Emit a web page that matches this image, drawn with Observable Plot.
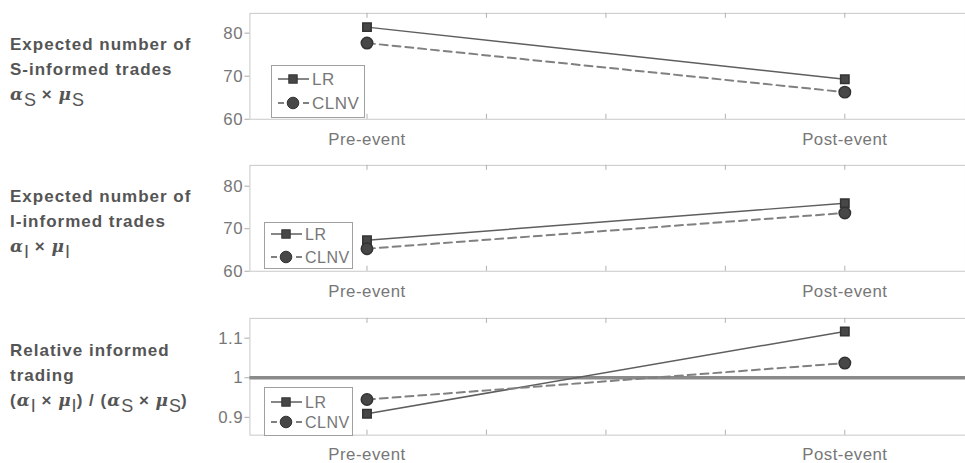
<!DOCTYPE html>
<html>
<head>
<meta charset="utf-8">
<script src="https://cdn.jsdelivr.net/npm/d3@7"></script>
<script src="https://cdn.jsdelivr.net/npm/@observablehq/plot@0.6"></script>
<style>
  body { margin: 0; background: #fff; overflow: hidden; }
  #chart { position: relative; width: 965px; height: 463px; overflow: hidden;
           font-family: "Liberation Sans", Arial, sans-serif; }
  .panel { position: absolute; left: 0; }
  .lbl { position: absolute; left: 10px; color: #555; font-weight: bold;
         font-size: 17px; letter-spacing: 1px; line-height: 25px; white-space: nowrap; }
  .lbl i { font-family: "DejaVu Serif", serif; font-style: italic; font-weight: bold; }
  .lbl sub { font-weight: normal; font-size: 18px; vertical-align: -6px; line-height: 0; letter-spacing: 0; }
  .legend { position: absolute; }
</style>
</head>
<body>
<div id="chart"></div>
<script>
// Event periods and their slots on the horizontal axis
const periods = ["Pre-event", "Post-event"];
const periodSlot = [1, 5];
const slotTicks = [1, 2, 3, 4, 5];

// Expected number of S-informed trades
const lrS = [81.4, 69.3];
const clnvS = [77.7, 66.3];
// Expected number of I-informed trades
const lrI = [67.3, 76.0];
const clnvI = [65.3, 73.7];
// Relative informed trading (I / S)
const lrRel = [0.909, 1.117];
const clnvRel = [0.945, 1.037];

const ticksS = [60, 70, 80];
const ticksI = [60, 70, 80];
const ticksRel = [0.9, 1, 1.1];
const tickLabelsRel = ["0.9", "1", "1.1"];
const seriesNames = ["LR", "CLNV"];

const panels = [
  { top: 0, height: 150, marginTop: 13, marginBottom: 30, domain: [60, 84.6],
    ticks: ticksS, fmt: d => String(d), lr: lrS, clnv: clnvS, padX: 14,
    legend: { left: 271, top: 65, w: 93, h: 52, rows: [14, 38], fs: 17 },
    label: { top: 32, html: 'Expected number of<br>S-informed trades<br><i>α</i><sub>S</sub> × <i>μ</i><sub>S</sub>' } },
  { top: 152, height: 150, marginTop: 13, marginBottom: 30, domain: [60, 84.9],
    ticks: ticksI, fmt: d => String(d), lr: lrI, clnv: clnvI, padX: 14,
    legend: { left: 264, top: 222, w: 88, h: 46, rows: [12, 35], fs: 16 },
    label: { top: 184, html: 'Expected number of<br>I-informed trades<br><i>α</i><sub>I</sub> × <i>μ</i><sub>I</sub>' } },
  { top: 305, height: 158, marginTop: 13, marginBottom: 27, domain: [0.855, 1.15],
    ticks: ticksRel, fmt: d => tickLabelsRel[ticksRel.indexOf(d)], lr: lrRel, clnv: clnvRel, padX: 13,
    refLine: 1,
    legend: { left: 264, top: 387, w: 88, h: 48, rows: [15, 35], fs: 16 },
    label: { top: 338, html: 'Relative informed<br>trading<br>(<i>α</i><sub>I</sub> × <i>μ</i><sub>I</sub>) / (<i>α</i><sub>S</sub> × <i>μ</i><sub>S</sub>)' } }
];

const chart = document.getElementById("chart");
const W = 975, ML = 252;

for (const p of panels) {
  const rows = periods.flatMap((period, i) => [
    { series: "LR", x: periodSlot[i], y: p.lr[i] },
    { series: "CLNV", x: periodSlot[i], y: p.clnv[i] }
  ]);
  const lr = rows.filter(d => d.series === "LR");
  const cl = rows.filter(d => d.series === "CLNV");
  const plotH = p.height - p.marginTop - p.marginBottom;

  const marks = [
    Plot.frame({ stroke: "#c8c8c8" }),
    // inward ticks along the top and bottom edges
    Plot.tickX(slotTicks, { x: d => d, insetTop: plotH - 5, stroke: "#b0b0b0" }),
    Plot.tickX(slotTicks, { x: d => d, insetBottom: plotH - 5, stroke: "#b0b0b0" }),
    Plot.axisX({ ticks: periodSlot, tickSize: 0, tickPadding: p.padX, label: null,
                 tickFormat: d => periods[periodSlot.indexOf(d)], fill: "#777", fontSize: 17 }),
    Plot.axisY({ ticks: p.ticks, tickSize: 5, tickPadding: 2, tickFormat: p.fmt, label: null,
                 stroke: "#aaa", fill: "#777", fontSize: 17 })
  ];
  if (p.refLine !== undefined) marks.push(Plot.ruleY([p.refLine], { stroke: "#8a8a8a", strokeWidth: 3.5 }));
  marks.push(
    Plot.line(lr, { x: "x", y: "y", stroke: "#5e5e5e", strokeWidth: 1.5 }),
    Plot.line(cl, { x: "x", y: "y", stroke: "#808080", strokeWidth: 2, strokeDasharray: "8,5" }),
    Plot.dot(lr, { x: "x", y: "y", symbol: "square", r: 4.8, fill: "#474747", stroke: "#333" }),
    Plot.dot(cl, { x: "x", y: "y", symbol: "circle", r: 5.8, fill: "#474747", stroke: "#333" })
  );

  const svg = Plot.plot({
    width: W, height: p.height,
    marginLeft: ML, marginRight: 0, marginTop: p.marginTop, marginBottom: p.marginBottom,
    x: { domain: [0.02, 6.01], axis: null },
    y: { domain: p.domain, axis: null },
    style: { fontFamily: "'Liberation Sans', Arial, sans-serif", fontSize: "17px", letterSpacing: "0.5px", background: "transparent", overflow: "visible" },
    marks
  });
  const holder = document.createElement("div");
  holder.className = "panel";
  holder.style.top = p.top + "px";
  holder.appendChild(svg);
  chart.appendChild(holder);

  // row label on the left
  const lbl = document.createElement("div");
  lbl.className = "lbl";
  lbl.style.top = p.label.top + "px";
  lbl.innerHTML = p.label.html;
  chart.appendChild(lbl);

  // legend box
  const L = p.legend;
  const g = d3.create("svg").attr("class", "legend")
    .attr("width", L.w + 2).attr("height", L.h + 2)
    .style("left", L.left + "px").style("top", L.top + "px");
  g.append("rect").attr("x", 0.5).attr("y", 0.5).attr("width", L.w).attr("height", L.h)
    .attr("fill", "#fff").attr("stroke", "#a0a0a0");
  seriesNames.forEach((name, i) => {
    const y = L.rows[i];
    const x0 = 7, x1 = 38, xm = 22;
    if (i) {
      // dashed sample: short strokes either side of the marker
      for (const [a, b] of [[x0, x0 + 6], [x1 - 6, x1]]) {
        g.append("line").attr("x1", a).attr("x2", b).attr("y1", y).attr("y2", y)
          .attr("stroke", "#808080").attr("stroke-width", 2);
      }
      g.append("circle").attr("cx", xm).attr("cy", y).attr("r", 5.8).attr("fill", "#474747").attr("stroke", "#333");
    } else {
      g.append("line").attr("x1", x0).attr("x2", x1).attr("y1", y).attr("y2", y)
        .attr("stroke", "#5e5e5e").attr("stroke-width", 1.5);
      g.append("rect").attr("x", xm - 4.2).attr("y", y - 4.2).attr("width", 8.4).attr("height", 8.4).attr("fill", "#474747").attr("stroke", "#333");
    }
    g.append("text").attr("x", x1 + 3).attr("y", y).attr("dy", "0.36em")
      .attr("fill", "#777").attr("font-size", L.fs).attr("letter-spacing", "0.5px")
      .attr("font-family", "'Liberation Sans', Arial, sans-serif").text(name);
  });
  chart.appendChild(g.node());
}
</script>
</body>
</html>
